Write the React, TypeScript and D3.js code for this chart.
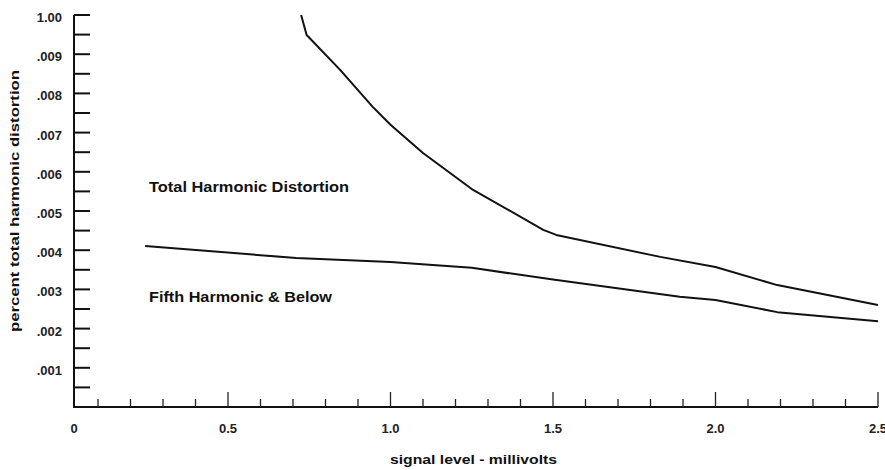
import React, { useEffect, useRef } from 'react'
import * as d3 from 'd3'

// total harmonic distortion (x in mV, y in percent)
const thdX = [0.725, 0.742, 0.845, 0.946, 1.0, 1.1, 1.25, 1.47, 1.51, 1.83, 2.0, 2.19, 2.5]
const thdY = [0.0100, 0.00949, 0.0086, 0.00765, 0.0072, 0.00648, 0.00556, 0.00452, 0.00439, 0.00383, 0.00357, 0.00311, 0.0026]

// fifth harmonic & below
const fifthX = [0.245, 0.71, 1.0, 1.25, 1.5, 1.89, 2.0, 2.19, 2.5]
const fifthY = [0.00411, 0.0038, 0.0037, 0.00355, 0.00325, 0.00281, 0.00273, 0.00242, 0.00219]

const yTickValues = [0.001, 0.002, 0.003, 0.004, 0.005, 0.006, 0.007, 0.008, 0.009, 0.010]
const yTickLabels = ['.001', '.002', '.003', '.004', '.005', '.006', '.007', '.008', '.009', '1.00']
const xTickValues = [0.5, 1.0, 1.5, 2.0, 2.5]
const xTickLabels = ['0.5', '1.0', '1.5', '2.0', '2.5']

export default function App() {
    const svgRef = useRef<SVGSVGElement>(null)

    useEffect(() => {
        const w = 885
        const h = 470
        const svg = d3.select(svgRef.current)
        svg.selectAll('*').remove()

        const axisX = 74
        const x = d3.scaleLinear().domain([0, 2.5]).range([65.5, 878])
        const y = d3.scaleLinear().domain([0, 0.010]).range([407, 15])

        const font = '"Liberation Sans", Arial, sans-serif'
        const narrow = '"Liberation Sans Narrow", "Liberation Sans", Arial, sans-serif'

        // y axis
        svg.append('line')
            .attr('x1', axisX).attr('x2', axisX)
            .attr('y1', y(0.010)).attr('y2', y(0) + 1)
            .attr('stroke', '#111').attr('stroke-width', 2)

        const yMinor = d3.range(1, 21).map(i => i * 0.0005)
        svg.append('g').selectAll('line')
            .data(yMinor)
            .join('line')
            .attr('x1', axisX).attr('x2', axisX + 16)
            .attr('y1', d => y(d)).attr('y2', d => y(d))
            .attr('stroke', '#111').attr('stroke-width', 2)

        svg.append('g').selectAll('text')
            .data(yTickValues)
            .join('text')
            .attr('x', 62)
            .attr('y', d => y(d) + 7)
            .attr('text-anchor', 'end')
            .attr('font-family', font)
            .attr('font-size', 13)
            .attr('font-weight', 'bold')
            .attr('fill', '#222')
            .text((d, i) => yTickLabels[i])

        // x axis
        svg.append('line')
            .attr('x1', axisX - 1).attr('x2', x(2.5))
            .attr('y1', y(0)).attr('y2', y(0))
            .attr('stroke', '#111').attr('stroke-width', 2)

        const xMinor = d3.range(1, 26).map(i => i / 10)
        svg.append('g').selectAll('line')
            .data(xMinor)
            .join('line')
            .attr('x1', d => x(d)).attr('x2', d => x(d))
            .attr('y1', y(0))
            .attr('y2', (d, i) => ((i + 1) % 5 === 0 ? y(0) - 15 : y(0) - 8))
            .attr('stroke', '#222').attr('stroke-width', 1.3)

        svg.append('g').selectAll('text')
            .data(xTickValues)
            .join('text')
            .attr('x', d => x(d))
            .attr('y', 433)
            .attr('text-anchor', 'middle')
            .attr('font-family', font)
            .attr('font-size', 13)
            .attr('font-weight', 'bold')
            .attr('fill', '#222')
            .text((d, i) => xTickLabels[i])

        svg.append('text')
            .attr('x', axisX)
            .attr('y', 433)
            .attr('text-anchor', 'middle')
            .attr('font-family', font)
            .attr('font-size', 13)
            .attr('font-weight', 'bold')
            .attr('fill', '#222')
            .text('0')

        // axis titles
        svg.append('text')
            .attr('x', 390)
            .attr('y', 464)
            .attr('font-family', narrow)
            .attr('font-size', 13)
            .attr('font-weight', 'bold')
            .attr('textLength', 167)
            .attr('lengthAdjust', 'spacingAndGlyphs')
            .attr('fill', '#111')
            .text('signal level - millivolts')

        svg.append('text')
            .attr('transform', 'translate(19, 332) rotate(-90)')
            .attr('font-family', narrow)
            .attr('font-size', 13)
            .attr('font-weight', 'bold')
            .attr('textLength', 262)
            .attr('lengthAdjust', 'spacingAndGlyphs')
            .attr('fill', '#111')
            .text('percent total harmonic distortion')

        // curves, drawn as straight segments between the read points
        const line = d3.line<[number, number]>()
            .x(d => x(d[0]))
            .y(d => y(d[1]))

        const series = [
            thdX.map((v, i) => [v, thdY[i]] as [number, number]),
            fifthX.map((v, i) => [v, fifthY[i]] as [number, number]),
        ]

        svg.append('g').selectAll('path')
            .data(series)
            .join('path')
            .attr('d', d => line(d))
            .attr('fill', 'none')
            .attr('stroke', '#111')
            .attr('stroke-width', 2)
            .attr('stroke-linejoin', 'round')

        // labels
        const notes = [
            { text: 'Total Harmonic Distortion', y: 192, len: 200 },
            { text: 'Fifth Harmonic & Below', y: 302, len: 183 },
        ]
        svg.append('g').selectAll('text')
            .data(notes)
            .join('text')
            .attr('x', 149)
            .attr('y', d => d.y)
            .attr('font-family', narrow)
            .attr('font-size', 14)
            .attr('font-weight', 'bold')
            .attr('textLength', d => d.len)
            .attr('lengthAdjust', 'spacingAndGlyphs')
            .attr('fill', '#111')
            .text(d => d.text)

        svg.attr('width', w).attr('height', h)
    }, [])

    return (
        <div style={{ position: 'absolute', left: 0, top: 0, background: 'white' }}>
            <svg ref={svgRef} style={{ display: 'block' }}></svg>
        </div>
    )
}
